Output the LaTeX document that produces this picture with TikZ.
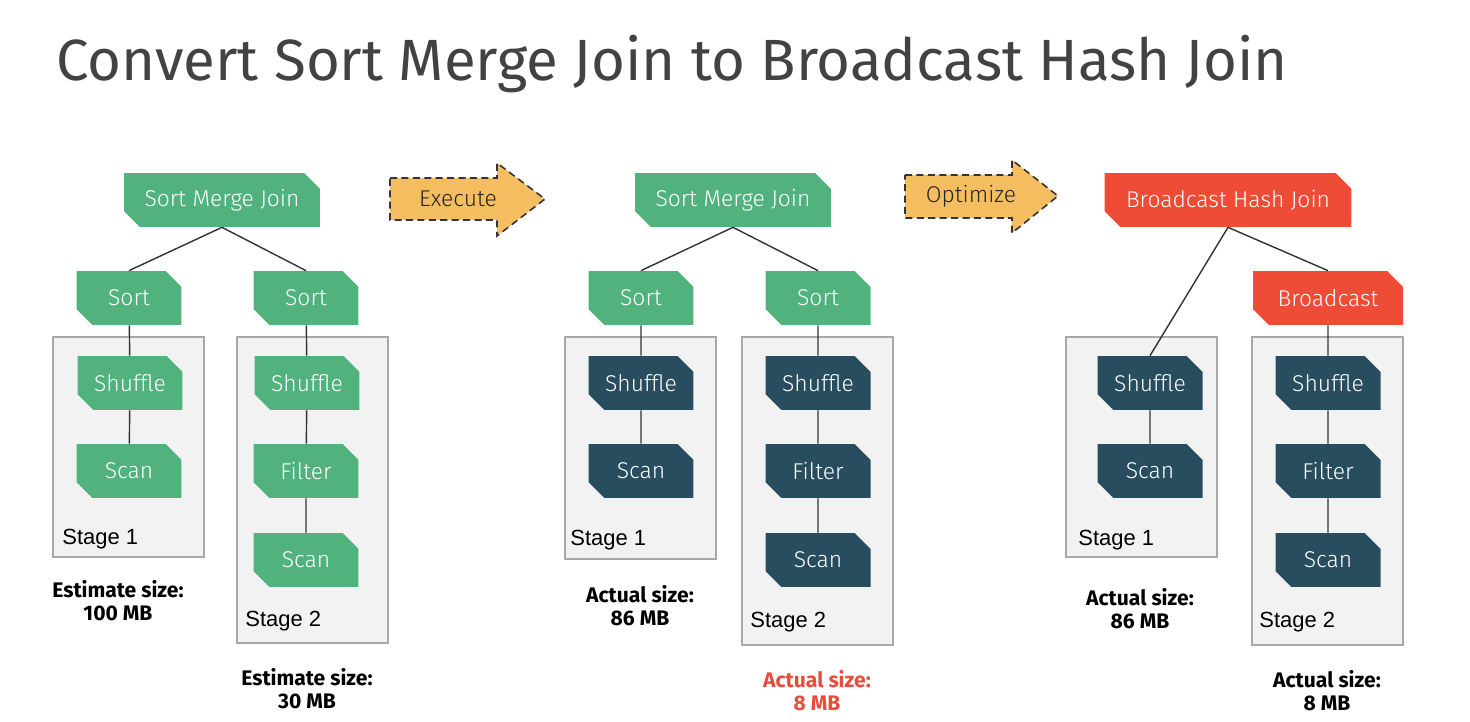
\documentclass[tikz,border=0pt]{standalone}
\usepackage{fontspec}
\setmainfont{Fira Sans}
\newfontfamily\stagefont{Liberation Sans}
\newfontfamily\lightfont{Fira Sans Light}
\usepackage{tikz}
\usetikzlibrary{shapes.misc}

\definecolor{opgreen}{RGB}{82,178,126}
\definecolor{opdark}{RGB}{40,77,94}
\definecolor{opred}{RGB}{238,76,54}
\definecolor{arrowfill}{RGB}{244,190,96}
\definecolor{stagefill}{RGB}{242,242,242}
\definecolor{stageline}{RGB}{168,168,168}
\definecolor{titlegray}{RGB}{66,66,66}
\definecolor{sizered}{RGB}{232,76,61}

\begin{document}
\begin{tikzpicture}[x=0.02cm, y=-0.02cm,
	op/.style={shape=chamfered rectangle, chamfered rectangle corners={north east,south west},
		chamfered rectangle xsep=4.5pt, chamfered rectangle ysep=4.5pt,
		minimum width=2.1cm, minimum height=1.08cm, inner sep=0pt, text=white,
		font=\lightfont\fontsize{13}{15}\selectfont},
	green/.style={op, fill=opgreen},
	dark/.style={op, fill=opdark},
	red/.style={op, fill=opred},
	link/.style={draw=black!80, line width=0.8pt},
	stagebox/.style={draw=stageline, fill=stagefill, line width=0.8pt},
	stagelabel/.style={anchor=west, inner sep=0pt, font=\stagefont\fontsize{12.5}{14}\selectfont},
	size/.style={align=center, inner sep=0pt, font=\bfseries\fontsize{12}{13}\selectfont},
	flow/.style={draw=black!80, fill=arrowfill, line width=0.9pt, dash pattern=on 4pt off 2.5pt},
	flowtext/.style={inner sep=0pt, text=black!85, font=\lightfont\fontsize{13}{15}\selectfont}
	]

	\useasboundingbox (0,0) rectangle (1470,722);

	\node[anchor=base west, inner sep=0pt, text=titlegray, font=\fontsize{33.1}{40}\selectfont] (title) at (56, 81)
		{Convert Sort Merge Join to Broadcast Hash Join};

	% stages
	\draw[stagebox] (53,337) rectangle (204,557);
	\draw[stagebox] (237,337) rectangle (388,643);
	\draw[stagebox] (565,337) rectangle (716,559);
	\draw[stagebox] (742,337) rectangle (893,645);
	\draw[stagebox] (1066,337) rectangle (1217,557);
	\draw[stagebox] (1252,337) rectangle (1403,645);

	\node[stagelabel] (st1a) at (62, 539)   {Stage 1};
	\node[stagelabel] (st2a) at (245, 621)  {Stage 2};
	\node[stagelabel] (st1b) at (570, 540)  {Stage 1};
	\node[stagelabel] (st2b) at (750, 622)  {Stage 2};
	\node[stagelabel] (st1c) at (1078, 540) {Stage 1};
	\node[stagelabel] (st2c) at (1259, 622) {Stage 2};

	% plan before execution
	\node[green, minimum width=3.92cm] (smja) at (222, 200) {Sort Merge Join};
	\node[green] (sortla) at (129, 298) {Sort};
	\node[green] (sortra) at (306, 298) {Sort};
	\node[green] (shufla) at (130, 383) {Shuffle};
	\node[green] (scanla) at (129, 471) {Scan};
	\node[green] (shufra) at (307, 383) {Shuffle};
	\node[green] (filta) at (306, 471) {Filter};
	\node[green] (scanra) at (306, 560) {Scan};

	\path[link] (smja.south) edge (sortla.north);
	\path[link] (smja.south) edge (sortra.north);
	\path[link] (sortla) edge (shufla);
	\path[link] (shufla) edge (scanla);
	\path[link] (sortra) edge (shufra);
	\path[link] (shufra) edge (filta);
	\path[link] (filta) edge (scanra);

	\node[size] (esta) at (118, 601) {Estimate size:\\100 MB};
	\node[size] (estb) at (307, 689) {Estimate size:\\30 MB};

	% plan after execution
	\node[green, minimum width=3.92cm] (smjb) at (733, 200) {Sort Merge Join};
	\node[green] (sortlb) at (641, 298) {Sort};
	\node[green] (sortrb) at (818, 298) {Sort};
	\node[dark] (shuflb) at (641, 383) {Shuffle};
	\node[dark] (scanlb) at (641, 471) {Scan};
	\node[dark] (shufrb) at (818, 383) {Shuffle};
	\node[dark] (filtb) at (818, 471) {Filter};
	\node[dark] (scanrb) at (818, 560) {Scan};

	\path[link] (smjb.south) edge (sortlb.north);
	\path[link] (smjb.south) edge (sortrb.north);
	\path[link] (sortlb) edge (shuflb);
	\path[link] (shuflb) edge (scanlb);
	\path[link] (sortrb) edge (shufrb);
	\path[link] (shufrb) edge (filtb);
	\path[link] (filtb) edge (scanrb);

	\node[size] (acta) at (640, 606) {Actual size:\\86 MB};
	\node[size, text=sizered] (actb) at (817, 691) {Actual size:\\8 MB};

	% optimized plan
	\node[red, minimum width=4.94cm] (bhj) at (1228, 200) {Broadcast Hash Join};
	\node[red, minimum width=3cm] (bcast) at (1328, 298) {Broadcast};
	\node[dark] (shuflc) at (1150, 383) {Shuffle};
	\node[dark] (scanlc) at (1150, 471) {Scan};
	\node[dark] (shufrc) at (1328, 383) {Shuffle};
	\node[dark] (filtc) at (1328, 471) {Filter};
	\node[dark] (scanrc) at (1328, 560) {Scan};

	\path[link] (bhj.south) edge (shuflc.north);
	\path[link] (bhj.south) edge (bcast.north);
	\path[link] (bcast) edge (shufrc);
	\path[link] (shuflc) edge (scanlc);
	\path[link] (shufrc) edge (filtc);
	\path[link] (filtc) edge (scanrc);

	\node[size] (actc) at (1140, 609) {Actual size:\\86 MB};
	\node[size] (actd) at (1327, 691) {Actual size:\\8 MB};

	% big arrows
	\draw[flow] (390,178) -- (497,178) -- (497,163) -- (545,199) -- (497,236) -- (497,220) -- (390,220) -- cycle;
	\node[flowtext] (exec) at (458, 199) {Execute};
	\draw[flow] (905,175) -- (1012,175) -- (1012,160) -- (1058,196) -- (1012,233) -- (1012,218) -- (905,218) -- cycle;
	\node[flowtext] (optim) at (971, 196) {Optimize};

\end{tikzpicture}
\end{document}
